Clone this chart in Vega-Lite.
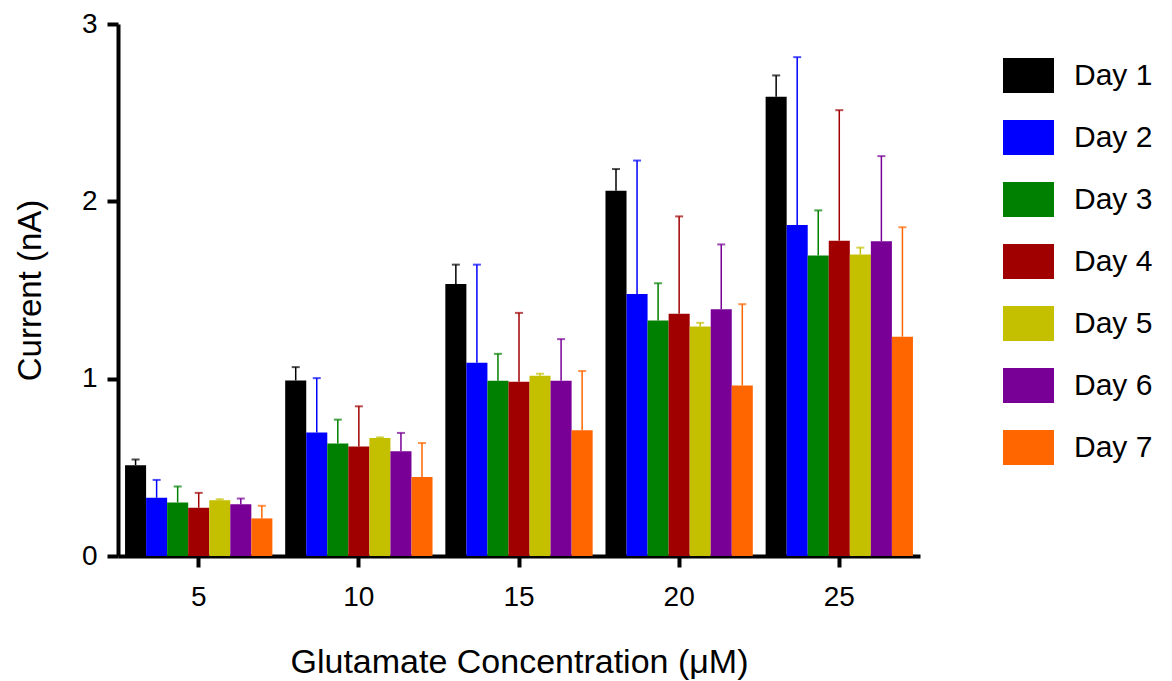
{
  "$schema": "https://vega.github.io/schema/vega-lite/v6.json",
  "autosize": "none",
  "width": 802,
  "height": 532,
  "padding": {"left": 118, "top": 24, "right": 252, "bottom": 125},
  "background": "white",
  "config": {
    "view": {"stroke": null},
    "font": "Liberation Sans",
    "axis": {"labelFont": "Liberation Sans", "titleFont": "Liberation Sans", "labelColor": "black", "titleColor": "black", "domainColor": "black", "tickColor": "black", "titleFontWeight": "normal", "grid": false}
  },
  "data": {"values": [
    {"conc": 5, "day": "Day 1", "value": 0.512, "upper": 0.544},
    {"conc": 5, "day": "Day 2", "value": 0.328, "upper": 0.429},
    {"conc": 5, "day": "Day 3", "value": 0.302, "upper": 0.392},
    {"conc": 5, "day": "Day 4", "value": 0.272, "upper": 0.356},
    {"conc": 5, "day": "Day 5", "value": 0.315, "upper": 0.320},
    {"conc": 5, "day": "Day 6", "value": 0.292, "upper": 0.324},
    {"conc": 5, "day": "Day 7", "value": 0.212, "upper": 0.283},
    {"conc": 10, "day": "Day 1", "value": 0.990, "upper": 1.065},
    {"conc": 10, "day": "Day 2", "value": 0.697, "upper": 1.003},
    {"conc": 10, "day": "Day 3", "value": 0.634, "upper": 0.769},
    {"conc": 10, "day": "Day 4", "value": 0.617, "upper": 0.844},
    {"conc": 10, "day": "Day 5", "value": 0.665, "upper": 0.669},
    {"conc": 10, "day": "Day 6", "value": 0.591, "upper": 0.694},
    {"conc": 10, "day": "Day 7", "value": 0.446, "upper": 0.637},
    {"conc": 15, "day": "Day 1", "value": 1.534, "upper": 1.643},
    {"conc": 15, "day": "Day 2", "value": 1.090, "upper": 1.643},
    {"conc": 15, "day": "Day 3", "value": 0.988, "upper": 1.140},
    {"conc": 15, "day": "Day 4", "value": 0.982, "upper": 1.371},
    {"conc": 15, "day": "Day 5", "value": 1.016, "upper": 1.028},
    {"conc": 15, "day": "Day 6", "value": 0.988, "upper": 1.223},
    {"conc": 15, "day": "Day 7", "value": 0.709, "upper": 1.043},
    {"conc": 20, "day": "Day 1", "value": 2.060, "upper": 2.182},
    {"conc": 20, "day": "Day 2", "value": 1.478, "upper": 2.230},
    {"conc": 20, "day": "Day 3", "value": 1.328, "upper": 1.538},
    {"conc": 20, "day": "Day 4", "value": 1.366, "upper": 1.915},
    {"conc": 20, "day": "Day 5", "value": 1.294, "upper": 1.315},
    {"conc": 20, "day": "Day 6", "value": 1.392, "upper": 1.757},
    {"conc": 20, "day": "Day 7", "value": 0.962, "upper": 1.420},
    {"conc": 25, "day": "Day 1", "value": 2.590, "upper": 2.710},
    {"conc": 25, "day": "Day 2", "value": 1.867, "upper": 2.813},
    {"conc": 25, "day": "Day 3", "value": 1.694, "upper": 1.949},
    {"conc": 25, "day": "Day 4", "value": 1.778, "upper": 2.514},
    {"conc": 25, "day": "Day 5", "value": 1.700, "upper": 1.739},
    {"conc": 25, "day": "Day 6", "value": 1.775, "upper": 2.255},
    {"conc": 25, "day": "Day 7", "value": 1.237, "upper": 1.854}
  ]},
  "encoding": {
    "x": {
      "field": "conc", "type": "ordinal",
      "scale": {"paddingInner": 0.08, "paddingOuter": 0.044},
      "axis": {
        "title": "Glutamate Concentration (μM)",
        "labelAngle": 0, "labelFontSize": 28, "labelPadding": 16,
        "titleFontSize": 34, "titleX": 401, "titleY": 116, "titleBaseline": "alphabetic", "titleAlign": "center",
        "tickSize": 11, "tickWidth": 4, "domainWidth": 4
      }
    },
    "xOffset": {"field": "day", "type": "nominal", "scale": {"paddingInner": 0, "paddingOuter": 0}},
    "color": {
      "field": "day", "type": "nominal",
      "scale": {
        "domain": ["Day 1", "Day 2", "Day 3", "Day 4", "Day 5", "Day 6", "Day 7"],
        "range": ["#000000", "#0000FF", "#008000", "#A00000", "#C4C000", "#780096", "#FF6600"]
      },
      "legend": {
        "title": null,
        "orient": "none", "legendX": 885, "legendY": 26,
        "padding": 0,
        "symbolType": "M-1,-0.686L1,-0.686L1,0.686L-1,0.686Z",
        "symbolSize": 2601, "symbolStrokeWidth": 0, "symbolOpacity": 1,
        "labelFont": "Liberation Sans", "labelFontSize": 30, "labelColor": "black",
        "labelOffset": 20, "rowPadding": 19, "labelLimit": 300
      }
    }
  },
  "layer": [
    {
      "mark": {"type": "bar"},
      "encoding": {
        "y": {
          "field": "value", "type": "quantitative",
          "scale": {"domain": [0, 3], "nice": false},
          "axis": {
            "title": "Current (nA)", "values": [0, 1, 2, 3], "format": "d",
            "labelFontSize": 28, "labelPadding": 10,
            "titleFontSize": 33, "titleAngle": 270, "titleX": -71, "titleY": 266, "titleAlign": "center", "titleBaseline": "bottom",
            "tickSize": 11, "tickWidth": 4, "domainWidth": 4
          }
        }
      }
    },
    {
      "mark": {"type": "rule", "strokeWidth": 1.5},
      "encoding": {
        "y": {"field": "value", "type": "quantitative"},
        "y2": {"field": "upper"}
      }
    },
    {
      "mark": {"type": "tick", "size": 8, "thickness": 2},
      "encoding": {
        "y": {"field": "upper", "type": "quantitative"}
      }
    }
  ]
}
